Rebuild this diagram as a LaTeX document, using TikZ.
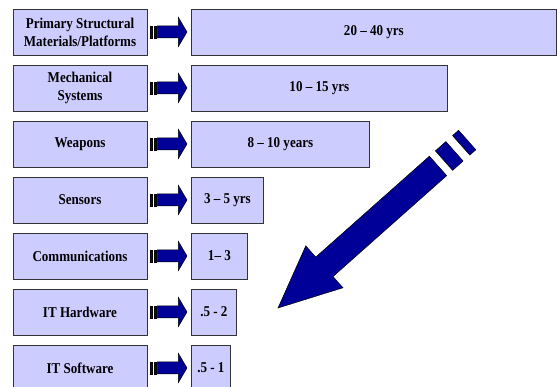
\documentclass[tikz,border=0pt]{standalone}
\usepackage{fontspec}
\setmainfont{Liberation Serif}[FakeStretch=0.87]
\usetikzlibrary{calc}
\definecolor{boxfill}{RGB}{204,204,255}
\definecolor{navy}{RGB}{0,0,153}
\tikzset{
  x=1pt,y=1pt,
  lbox/.style={draw=black!80, line width=0.8pt, fill=boxfill, minimum width=134, minimum height=46,
     inner sep=0pt, align=center, font=\fontsize{15}{18}\selectfont\bfseries},
  rbox/.style={draw=black!80, line width=0.8pt, fill=boxfill, minimum height=46, anchor=west,
     inner sep=0pt, align=center, font=\fontsize{15}{18}\selectfont\bfseries},
  blk/.style={fill=navy, draw=black, line width=0.5pt},
}
\begin{document}
\begin{tikzpicture}
\clip (0,0) rectangle (557,387);
\fill[white] (0,0) rectangle (557,387);
\foreach \i/\lt/\rt/\re in {
  1/{Primary Structural\\Materials/Platforms}/{20 – 40 yrs}/556,
  2/{Mechanical\\Systems}/{10 – 15 yrs}/447,
  3/{Weapons}/{8 – 10 years}/369,
  4/{Sensors}/{3 – 5 yrs}/263,
  5/{Communications}/{1– 3}/247,
  6/{IT Hardware}/{.5 - 2}/236,
  7/{IT Software}/{.5 - 1}/230}{
  \pgfmathsetmacro{\yc}{355-56*(\i-1)}
  \node[lbox] (L\i) at (80,\yc) {\lt};
  \pgfmathsetmacro{\w}{\re-191}
  \node[rbox, minimum width=\w] (R\i) at (191,\yc) {\rt};
  \begin{scope}[shift={(L\i.east)}]
    \fill[blk] (3,-6) rectangle (5,6);
    \fill[blk] (6.5,-6) rectangle (8.5,6);
    \filldraw[blk] (10,-6) -- (31,-6) -- (31,-14.5) -- ($(R\i.west)-(L\i.east)+(-4,0)$) -- (31,14.5) -- (31,6) -- (10,6) -- cycle;
  \end{scope}
}
% big striped arrow
\begin{scope}[shift={(278,79)}, rotate=41.6]
  \filldraw[blk] (0,0) -- (62,-28) -- (62,-13) -- (214,-13) -- (214,13) -- (62,13) -- (62,28) -- cycle;
  \filldraw[blk] (222,-13) rectangle (236,13);
  \filldraw[blk] (245,-13) rectangle (253,13);
\end{scope}
\end{tikzpicture}
\end{document}
